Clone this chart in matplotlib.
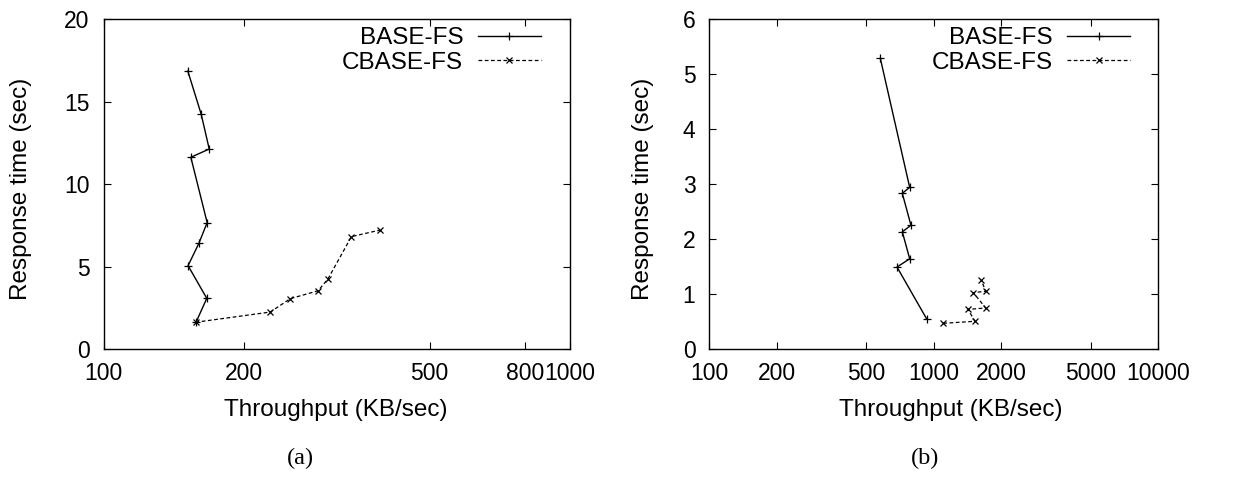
import matplotlib
matplotlib.use("Agg")
import matplotlib.pyplot as plt
from matplotlib.ticker import FixedLocator, FixedFormatter, NullLocator

plt.rcParams['font.family'] = ['Liberation Sans', 'DejaVu Sans']

## data (throughput KB/sec, response time sec)
# panel (a)
a_base_x = [151.6, 162.0, 168.5, 153.9, 166.8, 160.1, 151.8, 166.5, 158.0]
a_base_y = [16.85, 14.22, 12.12, 11.62, 7.66, 6.40, 5.05, 3.07, 1.64]
a_cbase_x = [157.5, 227.8, 251.4, 288.4, 302.4, 340.0, 391.7]
a_cbase_y = [1.62, 2.24, 3.05, 3.53, 4.22, 6.81, 7.21]
a_xticks = [100, 200, 500, 800, 1000]
a_yticks = [0, 5, 10, 15, 20]

# panel (b)
b_base_x = [577.7, 780.8, 724.0, 791.0, 724.0, 781.0, 685.5, 929.8]
b_base_y = [5.285, 2.94, 2.83, 2.25, 2.13, 1.64, 1.49, 0.546]
b_cbase_x = [1102, 1526, 1420, 1703, 1500, 1703, 1628]
b_cbase_y = [0.467, 0.504, 0.72, 0.746, 1.025, 1.05, 1.25]
b_xticks = [100, 200, 500, 1000, 2000, 5000, 10000]
b_yticks = [0, 1, 2, 3, 4, 5, 6]

fs_tick = 16.5
fs = 17.5
W, H = 1239, 490
fig = plt.figure(figsize=(W / 100, H / 100), dpi=100)

ax1 = fig.add_axes([103.5 / W, 1 - 349 / H, (570 - 103.5) / W, (349 - 19) / H])
ax2 = fig.add_axes([709.3 / W, 1 - 349 / H, (1158.3 - 709.3) / W, (349 - 19) / H])

panels = [
    (ax1, a_base_x, a_base_y, a_cbase_x, a_cbase_y, a_xticks, a_yticks, (100, 1000), (0, 20)),
    (ax2, b_base_x, b_base_y, b_cbase_x, b_cbase_y, b_xticks, b_yticks, (100, 10000), (0, 6)),
]

for ax, bx, by, cx, cy, xt, yt, xl, yl in panels:
    ax.plot(bx, by, color='black', lw=1.0, marker='+', ms=6, mew=0.9, label='BASE-FS')
    ax.plot(cx, cy, color='black', lw=0.9, ls=(0, (3, 2)), marker='x', ms=5, mew=0.9,
            label='CBASE-FS')
    ax.set_xscale('log')
    ax.set_xlim(*xl)
    ax.set_ylim(*yl)
    ax.xaxis.set_major_locator(FixedLocator(xt))
    ax.xaxis.set_major_formatter(FixedFormatter([str(t) for t in xt]))
    ax.xaxis.set_minor_locator(NullLocator())
    ax.set_yticks(yt)
    ax.tick_params(direction='in', length=5, width=0.8, top=True, right=True, labelsize=fs_tick)
    ax.tick_params(axis='x', pad=9)
    ax.tick_params(axis='y', pad=10)
    for sp in ax.spines.values():
        sp.set_linewidth(1.0)
    ax.legend(loc='upper right', frameon=False, fontsize=fs, markerfirst=False,
              handlelength=2.6, handletextpad=0.6, labelspacing=0.1,
              borderpad=0, borderaxespad=0, bbox_to_anchor=(0.938, 0.975))

fig.text(21 / W, 1 - 189 / H, 'Response time (sec)', rotation=90, ha='center', va='center', fontsize=fs)
fig.text(643 / W, 1 - 189 / H, 'Response time (sec)', rotation=90, ha='center', va='center', fontsize=fs)
fig.text(336 / W, 1 - 410 / H, 'Throughput (KB/sec)', ha='center', va='center', fontsize=fs)
fig.text(951 / W, 1 - 410 / H, 'Throughput (KB/sec)', ha='center', va='center', fontsize=fs)
fig.text(300 / W, 1 - 458 / H, '(a)', ha='center', va='center', fontsize=fs,
         family=['Liberation Serif', 'DejaVu Serif'])
fig.text(925 / W, 1 - 458 / H, '(b)', ha='center', va='center', fontsize=fs,
         family=['Liberation Serif', 'DejaVu Serif'])

fig.savefig('out.png', dpi=100)
